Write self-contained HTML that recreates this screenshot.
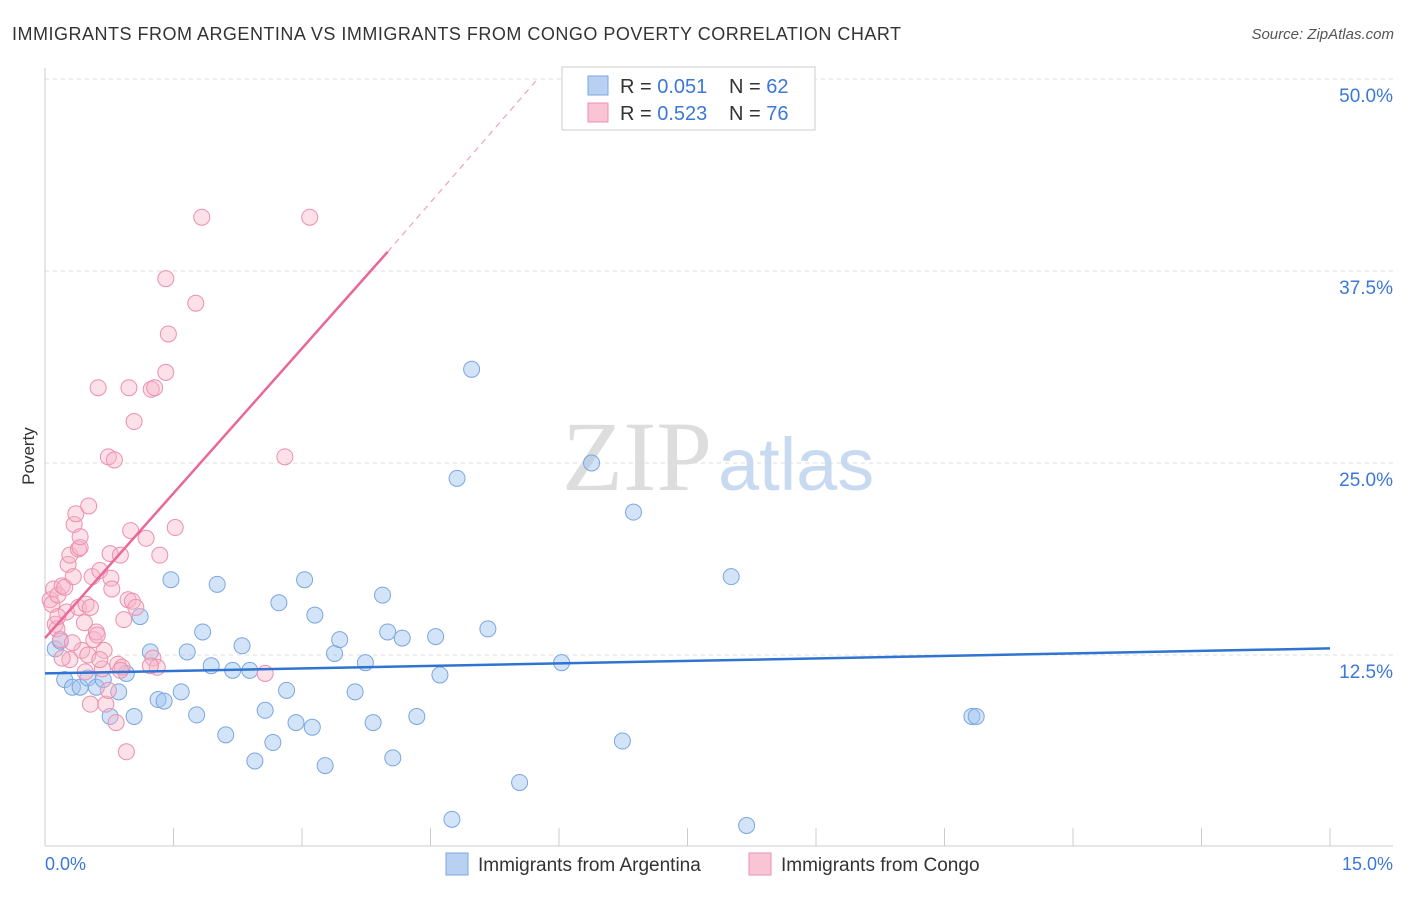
<!DOCTYPE html>
<html><head><meta charset="utf-8"><style>
body{margin:0;background:#fff;font-family:"Liberation Sans",sans-serif}
</style></head><body>
<svg width="1406" height="892" xmlns="http://www.w3.org/2000/svg">
<text x="12" y="40" font-size="18" fill="#333" textLength="889">IMMIGRANTS FROM ARGENTINA VS IMMIGRANTS FROM CONGO POVERTY CORRELATION CHART</text>
<text x="1394" y="39" font-size="15" fill="#555" font-style="italic" text-anchor="end">Source: ZipAtlas.com</text>
<g id="grid"></g>
<text x="712" y="490" font-size="100" fill="#ddd" font-family="Liberation Serif" text-anchor="end">ZIP</text>
<text x="718" y="490" font-size="74" fill="#c8daf0">atlas</text>
<line x1="45" y1="68" x2="45" y2="846" stroke="#ccc"/>
<line x1="45" y1="846" x2="1393" y2="846" stroke="#ccc"/>
<g id="ticks"></g>
<text x="34" y="456" font-size="17" fill="#333" transform="rotate(-90 34 456)" text-anchor="middle">Poverty</text>
<text x="45" y="870" font-size="18" fill="#3b78d8">0.0%</text>
<text x="1393" y="870" font-size="18" fill="#3b78d8" text-anchor="end">15.0%</text>
<g id="pts"></g>
<g id="lines"></g>
<g>
<rect x="562" y="67" width="253" height="63" fill="#fff" stroke="#ccc"/>
<rect x="588" y="76" width="20" height="19" fill="#b8d1f3" stroke="#7aa6e0"/>
<rect x="588" y="103" width="20" height="19" fill="#f9c4d3" stroke="#ec8fae"/>
<text x="620" y="93" font-size="20" fill="#333">R = <tspan fill="#3b78d8">0.051</tspan></text>
<text x="729" y="93" font-size="20" fill="#333">N = <tspan fill="#3b78d8">62</tspan></text>
<text x="620" y="120" font-size="20" fill="#333">R = <tspan fill="#3b78d8">0.523</tspan></text>
<text x="729" y="120" font-size="20" fill="#333">N = <tspan fill="#3b78d8">76</tspan></text>
</g>
<g>
<rect x="446" y="853" width="22" height="22" fill="#b8d1f3" stroke="#7aa6e0"/>
<text x="478" y="871" font-size="19" fill="#333">Immigrants from Argentina</text>
<rect x="749" y="853" width="22" height="22" fill="#f9c4d3" stroke="#ec8fae"/>
<text x="781" y="871" font-size="19" fill="#333">Immigrants from Congo</text>
</g>
</svg>
<script>
const yTicks=[12.5,25,37.5,50];
const yTickLabels=["12.5%","25.0%","37.5%","50.0%"];
const blueX=[0.12,0.18,0.23,0.32,0.41,0.5,0.6,0.68,0.76,0.86,0.95,1.04,1.11,1.23,1.32,1.39,1.47,1.59,1.66,1.77,1.84,1.94,2.01,2.11,2.19,2.3,2.39,2.45,2.57,2.66,2.73,2.82,2.93,3.03,3.12,3.15,3.27,3.38,3.44,3.62,3.74,3.83,3.94,4.0,4.06,4.17,4.34,4.56,4.61,4.75,4.81,4.98,5.17,5.54,6.03,6.38,6.74,6.87,8.01,8.19,10.82,10.87];
const blueY=[12.9,13.4,10.9,10.4,10.4,11.0,10.4,10.9,8.5,10.1,11.3,8.5,15.0,12.7,9.6,9.5,17.4,10.1,12.7,8.6,14.0,11.8,17.1,7.3,11.5,13.1,11.5,5.6,8.9,6.8,15.9,10.2,8.1,17.4,7.8,15.1,5.3,12.6,13.5,10.1,12.0,8.1,16.4,14.0,5.8,13.6,8.5,13.7,11.2,1.8,24.0,31.1,14.2,4.2,12.0,25.0,6.9,21.8,17.6,1.4,8.5,8.5];
const pinkX=[0.06,0.08,0.1,0.12,0.14,0.15,0.18,0.2,0.23,0.25,0.27,0.29,0.29,0.33,0.34,0.36,0.39,0.39,0.41,0.43,0.46,0.47,0.48,0.5,0.51,0.53,0.55,0.57,0.6,0.61,0.62,0.64,0.67,0.69,0.71,0.74,0.76,0.77,0.78,0.81,0.83,0.85,0.88,0.9,0.92,0.95,0.97,0.98,1.0,1.02,1.04,1.18,1.24,1.26,1.28,1.31,1.34,1.41,1.44,1.41,1.52,1.76,1.83,2.57,2.8,3.09,0.64,0.74,0.2,0.32,0.53,1.06,1.23,0.41,0.15,0.88];
const pinkY=[16.1,15.8,16.8,14.5,14.2,16.4,13.5,17.0,16.9,15.3,18.4,19.0,12.2,17.6,21.0,21.7,19.4,15.6,19.5,12.8,14.6,11.4,15.8,12.5,22.2,9.3,17.6,13.5,14.0,13.8,29.9,18.0,11.6,12.8,9.3,25.4,19.1,17.5,16.8,25.2,8.1,11.9,19.0,11.7,14.8,6.2,16.1,29.9,20.6,16.0,27.7,20.1,29.8,12.3,29.9,11.7,19.0,30.9,33.4,37.0,20.8,35.4,41.0,11.3,25.4,41.0,12.2,10.2,12.3,13.3,15.6,15.6,11.8,20.2,15.0,11.5];
const xs=v=>45+v/15*1285, ys=v=>847-v/12.5*192;
const NS="http://www.w3.org/2000/svg";
function mk(t,a,p){const e=document.createElementNS(NS,t);for(const k in a)e.setAttribute(k,a[k]);p.appendChild(e);return e;}
const grid=document.getElementById('grid');
yTicks.forEach((t,i)=>{
 const l=mk('line',{x1:45,x2:1393,y1:ys(t),y2:ys(t),stroke:'#ddd','stroke-dasharray':'4,4'},grid);
 
 
 const tx=mk('text',{x:1393,y:ys(t)+23,'font-size':19,fill:'#3b78d8','text-anchor':'end'},grid);
 tx.textContent=yTickLabels[i];
 
 
});
const tk=document.getElementById('ticks');
for(let i=0;i<=10;i++){const l=mk('line',{x1:xs(i*1.5),x2:xs(i*1.5),y1:828,y2:846,stroke:'#ccc'},tk);
 
 }
const pts=document.getElementById('pts');
blueX.forEach((x,i)=>{const c=mk('circle',{cx:xs(x),cy:ys(blueY[i]),r:8,fill:'rgba(160,195,240,0.45)',stroke:'#7aa6e0','stroke-width':1},pts);
 
 });
pinkX.forEach((x,i)=>{const c=mk('circle',{cx:xs(x),cy:ys(pinkY[i]),r:8,fill:'rgba(248,180,200,0.4)',stroke:'#ec8fae','stroke-width':1},pts);
 
 });
const ln=document.getElementById('lines');
const b=mk('line',{x1:xs(0),y1:ys(11.3),x2:xs(15),y2:ys(12.93),stroke:'#2f74d0','stroke-width':2.5},ln);


const p=mk('line',{x1:xs(0),y1:ys(13.6),x2:xs(4.0),y2:ys(38.75),stroke:'#e8689a','stroke-width':2.5},ln);


const pd=mk('line',{x1:xs(4.0),y1:ys(38.75),x2:xs(5.75),y2:ys(50),stroke:'#f0a0bd','stroke-width':1.2,'stroke-dasharray':'6,5'},ln);


</script>
</body></html>
